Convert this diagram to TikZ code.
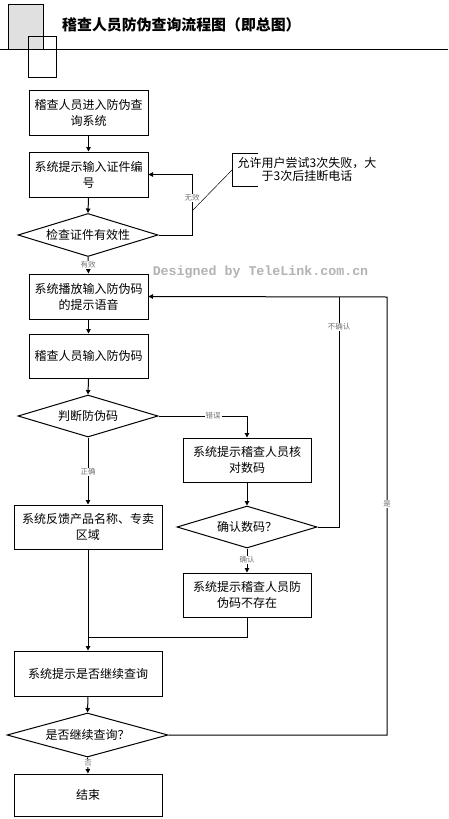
\documentclass[tikz,border=0pt]{standalone}
\usepackage{fontspec}
\setmainfont{Noto Sans CJK SC}
\newfontfamily\markfont{Liberation Mono}
\usetikzlibrary{shapes.geometric,arrows.meta}

\tikzset{
  box/.style={draw,line width=1pt,rectangle,align=center,inner sep=0pt,
    minimum width=119pt,minimum height=45pt,font=\fontsize{12}{16}\selectfont},
  widebox/.style={box,minimum width=148pt},
  sidebox/.style={box,minimum width=128pt,minimum height=44pt},
  decision/.style={draw,line width=1pt,diamond,aspect=3.3,inner sep=0pt,
    minimum width=140pt,minimum height=43pt,font=\fontsize{12}{16}\selectfont},
  lbl/.style={fill=white,inner sep=1pt,text=black!55,font=\fontsize{7.5}{8}\selectfont},
  flow/.style={line width=1pt,->},
  link/.style={line width=1pt},
}

\begin{document}
\begin{tikzpicture}[x=1pt,y=-1pt,>={Triangle[length=4.5pt,width=4.5pt]}]
  \useasboundingbox (0,0) rectangle (448,819);
  % header
  \fill[black!12] (8,4) rectangle (43,49);
  \draw[line width=0.8pt] (8,4) rectangle (43,49);
  \draw[line width=0.8pt] (28,36) rectangle (56,77);
  \draw[line width=0.8pt] (0,49) -- (448,49);
  \node[anchor=west,inner sep=0pt,font=\fontsize{14.9}{16}\selectfont\bfseries] (title) at (62,24.5) {稽查人员防伪查询流程图（即总图）};
  \node[text=black!30,font=\markfont\bfseries\fontsize{13.3}{14}\selectfont] (mark) at (260.5,272) {Designed by TeleLink.com.cn};
  % steps
  \node[box] (start) at (88.5,112.5) {稽查人员进入防伪查\\询系统};
  \node[box] (idprompt) at (88.5,174.5) {系统提示输入证件编\\号};
  \node[decision] (idcheck) at (88,235) {检查证件有效性};
  \node[box] (voice) at (88.5,296.5) {系统播放输入防伪码\\的提示语音};
  \node[box,minimum height=44pt] (inputcode) at (88.5,356) {稽查人员输入防伪码};
  \node[decision,minimum height=42pt] (judge) at (88,416) {判断防伪码};
  \node[sidebox] (verify) at (247,460) {系统提示稽查人员核\\对数码};
  \node[decision,minimum height=42pt] (confirm) at (247,527) {确认数码？};
  \node[sidebox] (notexist) at (247,595) {系统提示稽查人员防\\伪码不存在};
  \node[widebox,minimum height=44pt] (feedback) at (88,527) {系统反馈产品名称、专卖\\区域};
  \node[widebox] (askmore) at (88,673.5) {系统提示是否继续查询};
  \node[decision,minimum width=161pt,minimum height=44pt] (more) at (87.5,735) {是否继续查询？};
  \node[widebox,minimum height=42pt] (finish) at (88,795) {结束};
  % note
  \node[align=center,inner sep=0pt,font=\fontsize{12}{13.5}\selectfont] (note) at (307,169.5) {允许用户尝试3次失败，大\\于3次后挂断电话};
  \draw[line width=0.8pt] (258,153) -- (232,153) -- (232,186) -- (258,186);
  \coordinate (notetip) at (192,211);
  \coordinate (noteroot) at (232,170);
  \draw[line width=0.5pt] (noteroot) -- (notetip);
  % connectors
  \draw[flow] (start.south) -- (idprompt.north);
  \draw[flow] (idprompt.south) -- (idcheck.north);
  \draw[flow] (idcheck.east) -- (192,235) |- (idprompt.east);
  \node[lbl] (invalid) at (192,198) {无效};
  \draw[flow] (idcheck.south) -- (voice.north);
  \node[lbl] (valid) at (88,265) {有效};
  \draw[flow] (voice.south) -- (inputcode.north);
  \draw[flow] (inputcode.south) -- (judge.north);
  \draw[flow] (judge.east) -| (verify.north);
  \node[lbl] (wrong) at (213,416) {错误};
  \draw[flow] (verify.south) -- (confirm.north);
  \draw[link] (confirm.east) -| (339,297);
  \node[lbl] (noconfirm) at (339,327) {不确认};
  \draw[flow] (confirm.south) -- (notexist.north);
  \node[lbl] (yesconfirm) at (247,560) {确认};
  \draw[flow] (judge.south) -- (feedback.north);
  \node[lbl] (right) at (88,472) {正确};
  \draw[flow] (feedback.south) -- (askmore.north);
  \draw[link] (notexist.south) |- (88,637);
  \draw[flow] (askmore.south) -- (more.north);
  \draw[flow] (more.east) -| (387,297) -- (voice.east);
  \node[lbl] (yes) at (387,504) {是};
  \draw[flow] (more.south) -- (finish.north);
  \node[lbl] (no) at (88,763) {否};
\end{tikzpicture}
\end{document}
